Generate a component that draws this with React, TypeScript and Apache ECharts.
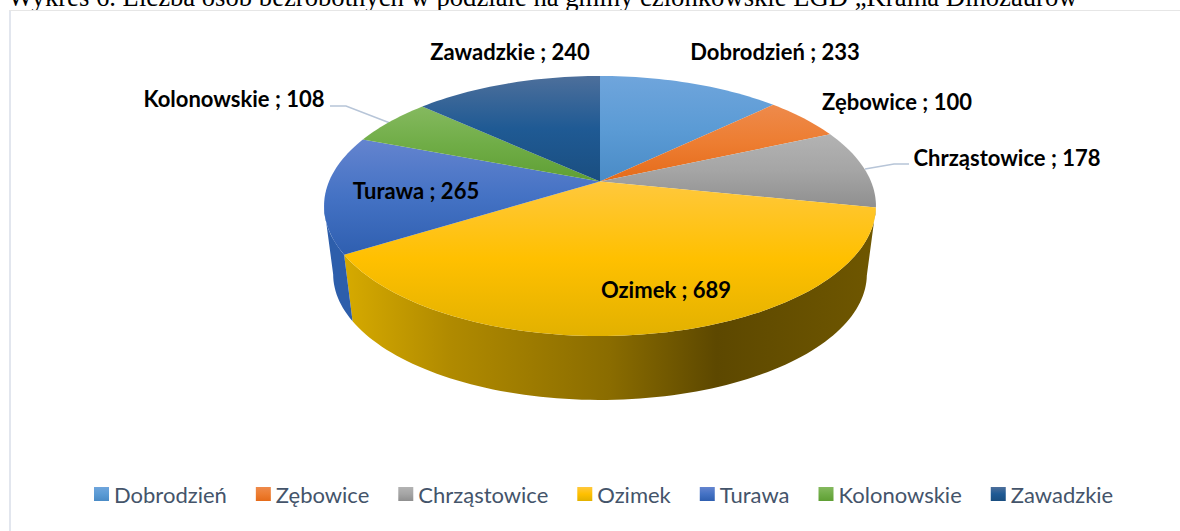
import React, { useEffect, useRef } from "react";
import * as echarts from "echarts";

const categories = ["Dobrodzień", "Zębowice", "Chrząstowice", "Ozimek", "Turawa", "Kolonowskie", "Zawadzkie"];
const values = [233, 100, 178, 689, 265, 108, 240];
const topLight = ["#6fa5dc", "#ee8a4b", "#b3b3b3", "#ffc83d", "#6484cf", "#85b95f", "#4d6f9b"];
const topBase = ["#5b9bd5", "#ed7d31", "#a5a5a5", "#ffc000", "#4472c4", "#70ad47", "#1f5a94"];
const topDark = ["#4a8bc6", "#e56b1a", "#8f8f8f", "#e2b100", "#2f5fb0", "#5f9f34", "#1a4e80"];
const titleText = "Wykres 6. Liczba osób bezrobotnych w podziale na gminy członkowskie LGD „Kraina Dinozaurów";
const labelCentres = [[775, 51], [897, 101], [1007, 157], [666, 289], [416, 190], [234, 98], [510, 51]];

const CX = 600, Y0 = 181.5, F = 271, G = 125.4, K = 0.1885, DROP = 69, SHRINK = 0.967;
const total = values.reduce((a, b) => a + b, 0);
const SIL = (Math.asin(K) * 180) / Math.PI;

function project(deg: number, bottom: boolean): number[] {
  const t = (deg * Math.PI) / 180;
  const X = Math.sin(t), Y = -Math.cos(t), d = 1 - K * Y, s = bottom ? SHRINK : 1;
  return [CX + (s * F * X) / d, Y0 + (bottom ? DROP : 0) + (s * G * Y) / d];
}
function arc(a: number, b: number, bottom: boolean): number[][] {
  const n = Math.max(2, Math.ceil(Math.abs(b - a) / 1.5));
  const out: number[][] = [];
  for (let i = 0; i <= n; i++) out.push(project(a + ((b - a) * i) / n, bottom));
  return out;
}
const vgrad = (i: number) => ({
  type: "linear", x: 0, y: 0, x2: 0, y2: 1,
  colorStops: [
    { offset: 0, color: topLight[i] },
    { offset: 0.5, color: topBase[i] },
    { offset: 1, color: topDark[i] },
  ],
});
const sideFill: any = {
  3: {
    type: "linear", x: 0, y: 0, x2: 1, y2: 0,
    colorStops: [
      { offset: 0, color: "#d6aa00" },
      { offset: 0.2, color: "#b08a00" },
      { offset: 0.5, color: "#8a6c00" },
      { offset: 0.7, color: "#5d4800" },
      { offset: 1, color: "#6f5700" },
    ],
  },
  4: "#2d5eab",
};

function renderSlice(i: number) {
  return () => {
    const before = values.slice(0, i).reduce((a, b) => a + b, 0);
    const a = (before / total) * 360, b = ((before + values[i]) / total) * 360;
    const children: any[] = [];
    const sa = Math.max(a, 90 + SIL), sb = Math.min(b, 270 - SIL);
    if (sb > sa) {
      children.push({
        type: "polygon",
        shape: { points: [...arc(sa, sb, false), ...arc(sb, sa, true)] },
        style: { fill: sideFill[i] },
      });
    }
    children.push({
      type: "polygon",
      shape: { points: [[CX, Y0], ...arc(a, b, false)] },
      style: { fill: vgrad(i) },
    });
    children.push({
      type: "text", x: labelCentres[i][0], y: labelCentres[i][1], z2: 100,
      style: {
        text: `${categories[i]} ; ${values[i]}`, align: "center", verticalAlign: "middle",
        fontFamily: "Lato", fontWeight: "bold", fontSize: 22, fill: "#000",
      },
    });
    return { type: "group", children };
  };
}

export default function App() {
  const ref = useRef<HTMLDivElement>(null);
  useEffect(() => {
    const chart = echarts.init(ref.current!, undefined, { renderer: "svg" });
    chart.setOption({
      animation: false,
      backgroundColor: "#fff",
      legend: {
        left: 94, top: 483, padding: 0, itemWidth: 15, itemHeight: 14, itemGap: 29, icon: "rect",
        textStyle: { fontFamily: "Lato", fontSize: 22, color: "#44546a" },
        data: categories.map((name, i) => ({ name, icon: "rect", itemStyle: { color: vgrad(i) } })),
        selectedMode: false,
      },
      graphic: [
        { type: "text", silent: true, x: 8, y: -3, style: { text: titleText, fontFamily: "Liberation Serif", fontSize: 26.67, fill: "#000", verticalAlign: "middle" } },
        { type: "rect", silent: true, shape: { x: 9, y: 10, width: 1171, height: 521 }, style: { fill: "#fff" } },
        { type: "line", silent: true, shape: { x1: 10, y1: 10, x2: 10, y2: 531 }, style: { stroke: "#e2e6ee", lineWidth: 2 } },
        { type: "line", silent: true, shape: { x1: 9, y1: 10.5, x2: 1180, y2: 10.5 }, style: { stroke: "#e6e6e6", lineWidth: 1.2 } },
        { type: "polyline", silent: true, shape: { points: [[330, 106], [346, 106], [390, 123]] }, style: { stroke: "#b7c5d8", lineWidth: 1.5, fill: "none" } },
        { type: "polyline", silent: true, shape: { points: [[909, 164], [894, 164], [865, 169]] }, style: { stroke: "#b7c5d8", lineWidth: 1.5, fill: "none" } },
      ],
      series: categories.map((name, i) => ({
        type: "custom", name, coordinateSystem: "none", silent: true,
        itemStyle: { color: vgrad(i) },
        data: [[values[i]]],
        renderItem: renderSlice(i),
      })),
    });
    return () => chart.dispose();
  }, []);
  return <div ref={ref} style={{ position: "fixed", left: 0, top: 0, width: 1180, height: 531, overflow: "hidden" }} />;
}
